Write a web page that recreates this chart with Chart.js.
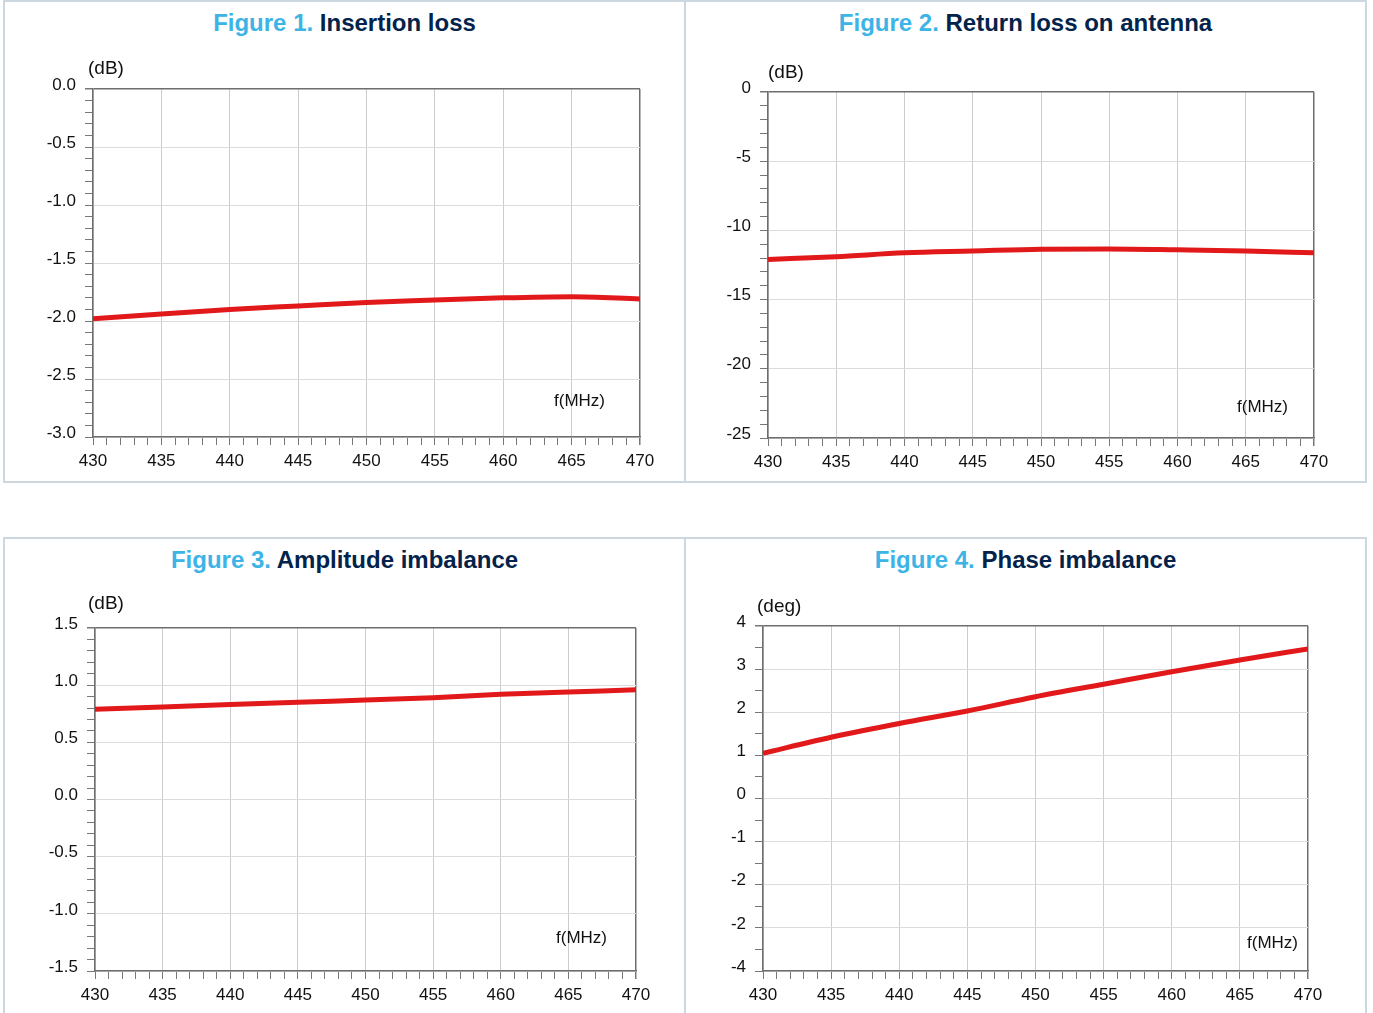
<!DOCTYPE html>
<html>
<head>
<meta charset="utf-8">
<script src="https://cdn.jsdelivr.net/npm/chart.js@4.4.0/dist/chart.umd.min.js"></script>
<style>
body { margin: 0; background: #fff; width: 1373px; height: 1013px; overflow: hidden; position: relative; font-family: "Liberation Sans", Arial, sans-serif; }
.panel { position: absolute; box-sizing: border-box; border: 2px solid #cdd7df; }
.panel canvas { position: absolute; left: 0; top: 0; }
.title { position: absolute; left: 0; right: 0; top: 7px; text-align: center; font-weight: bold; font-size: 24px; white-space: nowrap; }
.title .num { color: #3cb4e6; }
.title .txt { color: #03234b; }
</style>
</head>
<body>

<div class="panel" style="left:3px;top:0;width:683px;height:483px">
  <div class="title"><span class="num">Figure 1.</span> <span class="txt">Insertion loss</span></div>
  <canvas id="fig1" width="679" height="479"></canvas>
</div>
<div class="panel" style="left:684px;top:0;width:683px;height:483px">
  <div class="title"><span class="num">Figure 2.</span> <span class="txt">Return loss on antenna</span></div>
  <canvas id="fig2" width="679" height="479"></canvas>
</div>
<div class="panel" style="left:3px;top:537px;width:683px;height:480px">
  <div class="title"><span class="num">Figure 3.</span> <span class="txt">Amplitude imbalance</span></div>
  <canvas id="fig3" width="679" height="476"></canvas>
</div>
<div class="panel" style="left:684px;top:537px;width:683px;height:480px">
  <div class="title"><span class="num">Figure 4.</span> <span class="txt">Phase imbalance</span></div>
  <canvas id="fig4" width="679" height="476"></canvas>
</div>

<script>
// frequency points (MHz)
const freqs = [430, 435, 440, 445, 450, 455, 460, 465, 470];

const insertionLoss = [-1.98, -1.94, -1.90, -1.87, -1.84, -1.82, -1.80, -1.79, -1.81];
const returnLoss = [-12.1, -11.9, -11.62, -11.49, -11.36, -11.34, -11.4, -11.48, -11.62];
const amplitudeImbalance = [0.79, 0.81, 0.83, 0.85, 0.87, 0.89, 0.92, 0.94, 0.96];
const phaseImbalance = [1.05, 1.42, 1.74, 2.03, 2.36, 2.65, 2.94, 3.21, 3.47];

// tick labels as printed on the figures
const insertionTicks = ['0.0', '-0.5', '-1.0', '-1.5', '-2.0', '-2.5', '-3.0'];
const returnTicks = ['0', '-5', '-10', '-15', '-20', '-25'];
const amplitudeTicks = ['1.5', '1.0', '0.5', '0.0', '-0.5', '-1.0', '-1.5'];
const phaseTicks = ['4', '3', '2', '1', '0', '-1', '-2', '-2', '-4'];

const LINE_RED = '#e2191b';
const GRID = '#dcdcdc';
const GRID_V = '#cccccc';
const FRAME = '#6e6e6e';
const FONT = "'Liberation Sans', Arial, sans-serif";

// draws "(dB)" and "f(MHz)" next to the plot area
const unitLabels = {
    id: 'unitLabels',
    afterDraw(chart, args, opts) {
        const { ctx, chartArea } = chart;
        ctx.save();
        ctx.fillStyle = '#111';
        ctx.textBaseline = 'middle';
        ctx.textAlign = 'left';
        ctx.font = '19px ' + FONT;
        ctx.fillText(opts.yText, chartArea.left + opts.yDx, chartArea.top + opts.yDy);
        ctx.textAlign = 'right';
        ctx.font = '17px ' + FONT;
        ctx.fillText(opts.xText, chartArea.right + opts.xDx, chartArea.bottom + opts.xDy);
        ctx.restore();
    }
};

function makeChart(id, values, y, box, units) {
    const near = (a, b) => Math.abs(a - b) < 1e-6;
    const isMajorY = v => near(((v - y.min) / y.major), Math.round((v - y.min) / y.major));
    return new Chart(document.getElementById(id), {
        type: 'line',
        data: {
            labels: freqs,
            datasets: [{
                data: freqs.map((f, i) => ({ x: f, y: values[i] })),
                borderColor: LINE_RED,
                borderWidth: 5,
                pointRadius: 0,
                cubicInterpolationMode: 'monotone'
            }]
        },
        options: {
            responsive: false,
            animation: false,
            layout: { padding: { top: box.top, right: box.right, left: 0, bottom: 0 } },
            plugins: {
                legend: { display: false },
                tooltip: { enabled: false },
                unitLabels: units
            },
            scales: {
                x: {
                    type: 'linear',
                    min: 430,
                    max: 470,
                    afterFit(scale) { scale.height = box.xh; },
                    border: { color: FRAME, width: 1.5 },
                    grid: {
                        color: c => c.tick.value === 470 ? FRAME : (c.tick.value % 5 === 0 ? GRID_V : 'rgba(0,0,0,0)'),
                        lineWidth: c => c.tick.value === 470 ? 1.5 : 1,
                        tickColor: '#777',
                        tickLength: 8
                    },
                    ticks: {
                        stepSize: 1,
                        autoSkip: false,
                        maxRotation: 0,
                        padding: 6,
                        color: '#111',
                        font: { family: FONT, size: 17 },
                        callback: v => v % 5 === 0 ? String(v) : ''
                    }
                },
                y: {
                    min: y.min,
                    max: y.max,
                    afterFit(scale) { scale.width = box.yw; },
                    border: { color: FRAME, width: 1.5 },
                    grid: {
                        color: c => near(c.tick.value, y.max) ? FRAME : (isMajorY(c.tick.value) ? GRID : 'rgba(0,0,0,0)'),
                        lineWidth: c => near(c.tick.value, y.max) ? 1.5 : 1,
                        tickColor: '#777',
                        tickLength: 8
                    },
                    ticks: {
                        stepSize: y.minor,
                        autoSkip: false,
                        padding: 9,
                        labelOffset: -4,
                        color: '#111',
                        font: { family: FONT, size: 17 },
                        callback: v => isMajorY(v) ? y.labels[Math.round((y.max - v) / y.major)] : ''
                    }
                }
            }
        },
        plugins: [unitLabels]
    });
}

makeChart('fig1', insertionLoss,
    { min: -3, max: 0, major: 0.5, minor: 0.1, labels: insertionTicks },
    { top: 87, right: 44, yw: 88, xh: 44 },
    { yText: '(dB)', yDx: -5, yDy: -20, xText: 'f(MHz)', xDx: -35, xDy: -36 });

makeChart('fig2', returnLoss,
    { min: -25, max: 0, major: 5, minor: 1, labels: returnTicks },
    { top: 90, right: 51, yw: 82, xh: 43 },
    { yText: '(dB)', yDx: 0, yDy: -19, xText: 'f(MHz)', xDx: -26, xDy: -31 });

makeChart('fig3', amplitudeImbalance,
    { min: -1.5, max: 1.5, major: 0.5, minor: 0.1, labels: amplitudeTicks },
    { top: 89, right: 48, yw: 90, xh: 44 },
    { yText: '(dB)', yDx: -7, yDy: -24, xText: 'f(MHz)', xDx: -29, xDy: -33 });

makeChart('fig4', phaseImbalance,
    { min: -4, max: 4, major: 1, minor: 0.5, labels: phaseTicks },
    { top: 87, right: 57, yw: 77, xh: 44 },
    { yText: '(deg)', yDx: -6, yDy: -19, xText: 'f(MHz)', xDx: -10, xDy: -28 });
</script>
</body>
</html>
